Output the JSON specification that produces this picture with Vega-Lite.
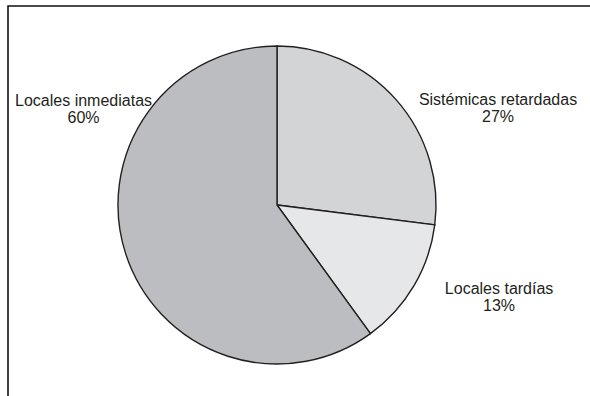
{
  "$schema": "https://vega.github.io/schema/vega-lite/v6.json",
  "width": 600,
  "height": 400,
  "padding": {"left": 8, "top": 6, "right": 0, "bottom": 0},
  "autosize": {"type": "none"},
  "background": "white",
  "view": {"stroke": "#111111", "strokeWidth": 1.6, "fill": "white"},
  "data": {
    "values": [
      {"cat": "Sistémicas retardadas", "pct": 27, "orden": 1, "etiqueta": "Sistémicas retardadas\n27%"},
      {"cat": "Locales tardías", "pct": 13, "orden": 2, "etiqueta": "Locales tardías\n13%"},
      {"cat": "Locales inmediatas", "pct": 60, "orden": 3, "etiqueta": "Locales inmediatas\n60%"}
    ]
  },
  "encoding": {
    "theta": {"field": "pct", "type": "quantitative", "stack": true},
    "order": {"field": "orden", "type": "quantitative"}
  },
  "layer": [
    {
      "mark": {"type": "arc", "x": 269, "y": 199, "outerRadius": 159, "stroke": "#231f20", "strokeWidth": 1.4},
      "encoding": {
        "color": {
          "field": "cat", "type": "nominal", "legend": null,
          "scale": {"domain": ["Sistémicas retardadas", "Locales tardías", "Locales inmediatas"], "range": ["#d3d4d6", "#e6e7e8", "#bcbdc0"]}
        }
      }
    },
    {
      "mark": {"type": "text", "x": 269, "y": 199, "radius": 244.7, "thetaOffset": 0.279, "font": "Liberation Sans", "fontSize": 16, "lineHeight": 17, "lineBreak": "\n", "align": "center", "baseline": "middle", "color": "#231f20"},
      "encoding": {"text": {"condition": {"test": "datum.cat === 'Sistémicas retardadas'", "field": "etiqueta"}, "value": ""}}
    },
    {
      "mark": {"type": "text", "x": 269, "y": 199, "radius": 237.4, "thetaOffset": -0.173, "font": "Liberation Sans", "fontSize": 16, "lineHeight": 17, "lineBreak": "\n", "align": "center", "baseline": "middle", "color": "#231f20"},
      "encoding": {"text": {"condition": {"test": "datum.cat === 'Locales tardías'", "field": "etiqueta"}, "value": ""}}
    },
    {
      "mark": {"type": "text", "x": 269, "y": 199, "radius": 219.7, "thetaOffset": 0.808, "font": "Liberation Sans", "fontSize": 16, "lineHeight": 17, "lineBreak": "\n", "align": "center", "baseline": "middle", "color": "#231f20"},
      "encoding": {"text": {"condition": {"test": "datum.cat === 'Locales inmediatas'", "field": "etiqueta"}, "value": ""}}
    }
  ]
}
